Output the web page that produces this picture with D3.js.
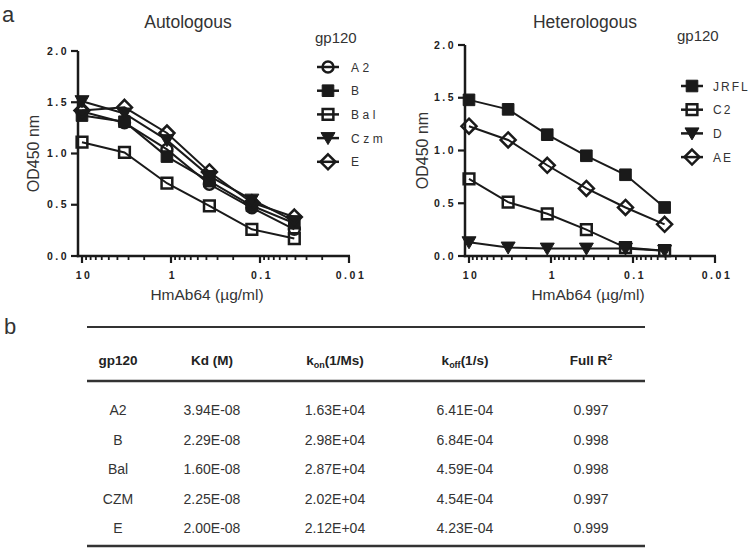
<!DOCTYPE html>
<html><head><meta charset="utf-8">
<script src="https://cdn.jsdelivr.net/npm/d3@7"></script>
<style>
body{margin:0;background:#fff;}
svg{display:block;font-family:"Liberation Sans",Arial,sans-serif;}
</style></head>
<body><svg id="c" width="750" height="548"></svg>
<script>
// ---------- data ----------
const conc = [10, 3.333, 1.111, 0.3704, 0.1235, 0.04115];
const xTickValues = [10, 1, 0.1, 0.01];
const xTickLabels = ["10", "1", "0.1", "0.01"];
const yTickValues = [0, 0.5, 1.0, 1.5, 2.0];
const yTickLabels = ["0.0", "0.5", "1.0", "1.5", "2.0"];

const autoNames = ["A2", "B", "Bal", "Czm", "E"];
const autoSymbols = ["circle", "squareFilled", "square", "triangle", "diamond"];
const autoA2  = [1.41, 1.30, 1.04, 0.70, 0.47, 0.26];
const autoB   = [1.37, 1.31, 0.97, 0.73, 0.49, 0.32];
const autoBal = [1.11, 1.01, 0.71, 0.49, 0.26, 0.17];
const autoCzm = [1.51, 1.39, 1.13, 0.78, 0.55, 0.34];
const autoE   = [1.42, 1.45, 1.20, 0.82, 0.52, 0.38];

const hetNames = ["JRFL", "C2", "D", "AE"];
const hetSymbols = ["squareFilled", "square", "triangle", "diamond"];
const hetJRFL = [1.48, 1.39, 1.15, 0.95, 0.77, 0.46];
const hetC2   = [0.73, 0.51, 0.40, 0.25, 0.08, 0.05];
const hetD    = [0.13, 0.08, 0.07, 0.07, 0.07, 0.05];
const hetAE   = [1.23, 1.10, 0.86, 0.64, 0.46, 0.30];

const tableIds  = ["A2", "B", "Bal", "CZM", "E"];
const tableKd   = ["3.94E-08", "2.29E-08", "1.60E-08", "2.25E-08", "2.00E-08"];
const tableKon  = ["1.63E+04", "2.98E+04", "2.87E+04", "2.02E+04", "2.12E+04"];
const tableKoff = ["6.41E-04", "6.84E-04", "4.59E-04", "4.54E-04", "4.23E-04"];
const tableR2   = ["0.997", "0.998", "0.998", "0.997", "0.999"];

// ---------- drawing ----------
const svg = d3.select("#c");
const INK = "#1a1a1a";

function symbolPath(type) {
  switch (type) {
    case "circle": return d3.symbol(d3.symbolCircle, 95)();
    case "square": return d3.symbol(d3.symbolSquare, 115)();
    case "squareFilled": return d3.symbol(d3.symbolSquare, 135)();
    case "triangle": return "M-7,-5.5L7,-5.5L0,6.5Z";
    case "diamond": return "M0,-7.5L7.5,0L0,7.5L-7.5,0Z";
  }
}
function drawMarker(g, type, x, y) {
  const filled = (type === "squareFilled" || type === "triangle");
  g.append("path").attr("d", symbolPath(type))
    .attr("transform", `translate(${x},${y})`)
    .attr("fill", filled ? INK : "none")
    .attr("stroke", INK)
    .attr("stroke-width", filled ? 1 : 2.5);
}

function panel(opt) {
  const g = svg.append("g");
  const x = d3.scaleLog().domain([10, 0.01]).range([opt.x0, opt.x1]);
  const y = d3.scaleLinear().domain([0, 2]).range([opt.yBottom, opt.yTop]);

  // axis lines
  g.append("line").attr("x1", opt.axisX).attr("x2", opt.axisX)
    .attr("y1", opt.yTop).attr("y2", opt.yBottom + 1.2)
    .attr("stroke", INK).attr("stroke-width", 2.5);
  g.append("line").attr("x1", opt.axisX - 1.2).attr("x2", opt.x1 + 1)
    .attr("y1", opt.yBottom).attr("y2", opt.yBottom)
    .attr("stroke", INK).attr("stroke-width", 2.5);

  // y ticks
  yTickValues.forEach((v, i) => {
    g.append("line").attr("x1", opt.axisX - 7).attr("x2", opt.axisX)
      .attr("y1", y(v)).attr("y2", y(v)).attr("stroke", INK).attr("stroke-width", 2.2);
    g.append("text").attr("x", opt.axisX - 9).attr("y", y(v) + 3.5)
      .attr("text-anchor", "end").attr("font-size", 10.5).attr("font-weight", "bold")
      .attr("letter-spacing", 2.5).attr("fill", "#222").text(yTickLabels[i]);
  });

  // x ticks: minor + major
  const minor = [];
  [10, 1, 0.1].forEach(dec => { for (let k = 2; k <= 9; k++) minor.push(dec * k / 10); });
  minor.forEach(v => {
    g.append("line").attr("x1", x(v)).attr("x2", x(v))
      .attr("y1", opt.yBottom).attr("y2", opt.yBottom + 4)
      .attr("stroke", INK).attr("stroke-width", 1.8);
  });
  xTickValues.forEach((v, i) => {
    g.append("line").attr("x1", x(v)).attr("x2", x(v))
      .attr("y1", opt.yBottom).attr("y2", opt.yBottom + 7)
      .attr("stroke", INK).attr("stroke-width", 2.2);
    g.append("text").attr("x", x(v) + 2).attr("y", opt.yBottom + 23)
      .attr("text-anchor", "middle").attr("font-size", 10.5).attr("font-weight", "bold")
      .attr("letter-spacing", 2.5).attr("fill", "#222").text(xTickLabels[i]);
  });

  // axis titles
  g.append("text").attr("x", opt.xLabelX).attr("y", opt.yBottom + 44)
    .attr("text-anchor", "middle").attr("font-size", 15.5).attr("fill", "#333")
    .text("HmAb64 (µg/ml)");
  g.append("text")
    .attr("transform", `translate(${opt.yLabelX},${(opt.yTop + opt.yBottom) / 2}) rotate(-90)`)
    .attr("text-anchor", "middle").attr("font-size", 16).attr("fill", "#333")
    .text("OD450 nm");
  g.append("text").attr("x", opt.titleX).attr("y", 28)
    .attr("text-anchor", "middle").attr("font-size", 17.5).attr("fill", "#333")
    .text(opt.title);

  // series
  const line = d3.line().x((d, i) => x(conc[i])).y(d => y(d));
  opt.series.forEach(s => {
    g.append("path").attr("d", line(s.values)).attr("fill", "none")
      .attr("stroke", INK).attr("stroke-width", 2);
  });
  opt.series.forEach(s => {
    s.values.forEach((v, i) => drawMarker(g, s.symbol, x(conc[i]), y(v)));
  });

  // legend
  g.append("text").attr("x", opt.legendTitleX).attr("y", opt.legendTitleY)
    .attr("font-size", 15).attr("fill", "#333").text("gp120");
  opt.series.forEach((s, i) => {
    const ly = opt.legendY0 + i * opt.legendStep;
    g.append("line").attr("x1", opt.legendX - 11).attr("x2", opt.legendX + 11)
      .attr("y1", ly).attr("y2", ly).attr("stroke", INK).attr("stroke-width", 2.5);
    drawMarker(g, s.symbol, opt.legendX, ly);
    g.append("text").attr("x", opt.legendX + opt.legendGap).attr("y", ly + 4.5)
      .attr("font-size", 12).attr("letter-spacing", opt.legendSpacing)
      .attr("fill", "#333").text(s.name);
  });
}

panel({
  title: "Autologous", titleX: 188,
  x0: 82, x1: 349, axisX: 78, yTop: 51, yBottom: 256,
  xLabelX: 207, yLabelX: 39,
  legendTitleX: 315, legendTitleY: 43, legendX: 328, legendY0: 67, legendStep: 23.7,
  legendGap: 23, legendSpacing: 3.5,
  series: [
    {name: autoNames[0], symbol: autoSymbols[0], values: autoA2},
    {name: autoNames[1], symbol: autoSymbols[1], values: autoB},
    {name: autoNames[2], symbol: autoSymbols[2], values: autoBal},
    {name: autoNames[3], symbol: autoSymbols[3], values: autoCzm},
    {name: autoNames[4], symbol: autoSymbols[4], values: autoE}
  ]
});

panel({
  title: "Heterologous", titleX: 585,
  x0: 469, x1: 715, axisX: 465, yTop: 45, yBottom: 256,
  xLabelX: 588, yLabelX: 428,
  legendTitleX: 677, legendTitleY: 41, legendX: 692, legendY0: 86, legendStep: 23.7,
  legendGap: 21, legendSpacing: 2,
  series: [
    {name: hetNames[0], symbol: hetSymbols[0], values: hetJRFL},
    {name: hetNames[1], symbol: hetSymbols[1], values: hetC2},
    {name: hetNames[2], symbol: hetSymbols[2], values: hetD},
    {name: hetNames[3], symbol: hetSymbols[3], values: hetAE}
  ]
});

// panel letters
svg.append("text").attr("x", 2).attr("y", 22).attr("font-size", 22).attr("fill", "#333").text("a");
svg.append("text").attr("x", 4).attr("y", 334).attr("font-size", 22).attr("fill", "#333").text("b");

// ---------- table ----------
const tg = svg.append("g");
const colX = [118, 212, 335, 465, 591];
const tLeft = 87, tRight = 645;
tg.append("line").attr("x1", tLeft).attr("x2", tRight).attr("y1", 327).attr("y2", 327)
  .attr("stroke", "#333").attr("stroke-width", 2);
tg.append("line").attr("x1", tLeft).attr("x2", tRight).attr("y1", 381).attr("y2", 381)
  .attr("stroke", "#333").attr("stroke-width", 2.5);
tg.append("line").attr("x1", tLeft).attr("x2", tRight).attr("y1", 546).attr("y2", 546)
  .attr("stroke", "#333").attr("stroke-width", 2.5);

const hy = 365;
function headerText(xc, parts) {
  const t = tg.append("text").attr("x", xc).attr("y", hy).attr("text-anchor", "middle")
    .attr("font-size", 13.5).attr("font-weight", "bold").attr("fill", "#222");
  parts.forEach(p => {
    const ts = t.append("tspan").text(p.t);
    if (p.sub) ts.attr("font-size", 9).attr("dy", 3);
    if (p.sup) ts.attr("font-size", 9).attr("dy", -5);
    if (p.back) ts.attr("dy", p.back);
  });
}
headerText(colX[0], [{t: "gp120"}]);
headerText(colX[1], [{t: "Kd (M)"}]);
headerText(colX[2], [{t: "k"}, {t: "on", sub: true}, {t: "(1/Ms)", back: -3}]);
headerText(colX[3], [{t: "k"}, {t: "off", sub: true}, {t: "(1/s)", back: -3}]);
headerText(colX[4], [{t: "Full  R"}, {t: "2", sup: true}]);

const rowY0 = 415, rowStep = 29.5;
tableIds.forEach((id, i) => {
  const vals = [id, tableKd[i], tableKon[i], tableKoff[i], tableR2[i]];
  vals.forEach((v, j) => {
    tg.append("text").attr("x", colX[j]).attr("y", rowY0 + i * rowStep)
      .attr("text-anchor", "middle").attr("font-size", 14).attr("fill", "#333")
      .text(v);
  });
});
</script></body></html>
